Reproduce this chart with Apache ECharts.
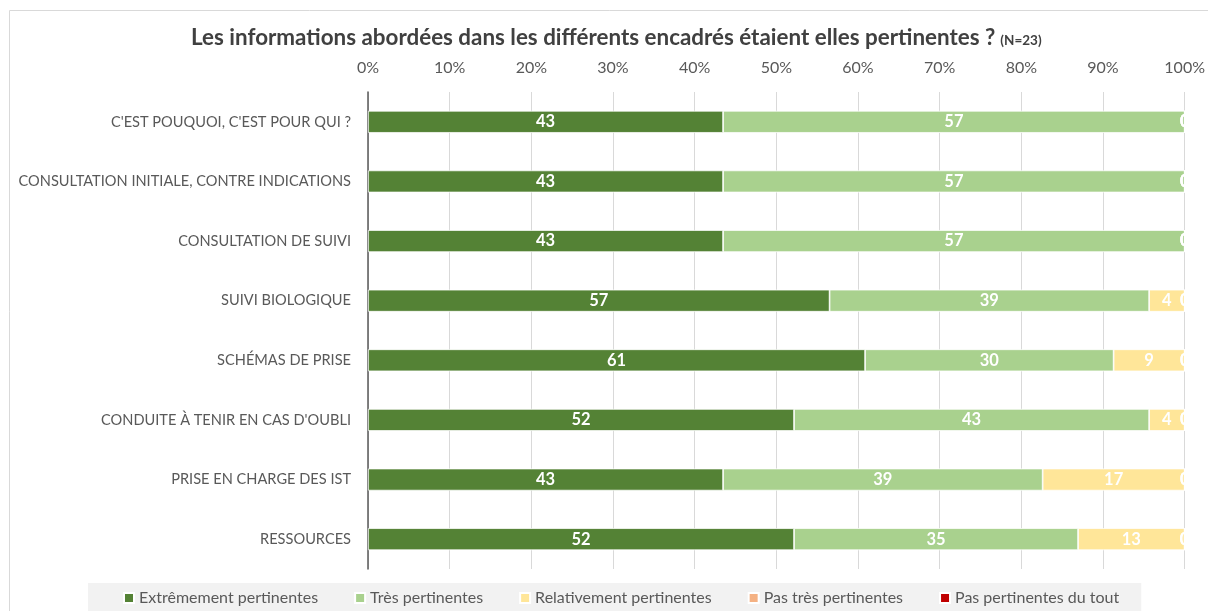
<!DOCTYPE html>
<html>
<head>
<meta charset="utf-8">
<script src="https://cdn.jsdelivr.net/npm/echarts@6/dist/echarts.min.js"></script>
<style>
  html, body { margin: 0; padding: 0; background: #fff; }
  #chart { width: 1208px; height: 611px; }
</style>
</head>
<body>
<div id="chart"></div>
<script>
// rubriques (axe vertical, de haut en bas)
var categories = [
    "C'EST POUQUOI, C'EST POUR QUI ?",
    'CONSULTATION INITIALE, CONTRE INDICATIONS',
    'CONSULTATION DE SUIVI',
    'SUIVI BIOLOGIQUE',
    'SCHÉMAS DE PRISE',
    "CONDUITE À TENIR EN CAS D'OUBLI",
    'PRISE EN CHARGE DES IST',
    'RESSOURCES'
];

// pourcentages de réponses (N=23)
var extremement = [43.48, 43.48, 43.48, 56.52, 60.87, 52.17, 43.48, 52.17];
var tres = [56.52, 56.52, 56.52, 39.13, 30.43, 43.48, 39.13, 34.78];
var relativement = [0, 0, 0, 4.35, 8.70, 4.35, 17.39, 13.04];
var pasTres = [0, 0, 0, 0, 0, 0, 0, 0];
var pasDuTout = [0, 0, 0, 0, 0, 0, 0, 0];

var seriesNames = ['Extrêmement pertinentes', 'Très pertinentes', 'Relativement pertinentes', 'Pas très pertinentes', 'Pas pertinentes du tout'];
var seriesData = [extremement, tres, relativement, pasTres, pasDuTout];
var colors = ['#548235', '#a9d18e', '#ffe699', '#f4b183', '#c00000'];

var font = 'Lato, "Open Sans", sans-serif';

var myChart = echarts.init(document.getElementById('chart'));

var series = seriesNames.map(function (name, i) {
    return {
        name: name,
        type: 'bar',
        stack: 'total',
        barCategoryGap: '63%',
        itemStyle: {
            color: colors[i],
            borderColor: '#ffffff',
            borderWidth: 0.75
        },
        label: {
            show: true,
            position: 'inside',
            color: '#ffffff',
            fontFamily: font,
            fontWeight: 'bold',
            fontSize: 16.5,
            formatter: function (p) { return Math.round(p.value); }
        },
        data: seriesData[i]
    };
});

var option = {
    animation: false,
    color: colors,
    title: {
        text: '{main|Les informations abordées dans les différents encadrés étaient elles pertinentes ?} {small|(N=23)}',
        left: 186,
        top: 22,
        textStyle: {
            rich: {
                main: { fontFamily: font, fontWeight: 'bold', fontSize: 22.4, color: '#404040' },
                small: { fontFamily: font, fontWeight: 'bold', fontSize: 13.5, color: '#404040', padding: [5, 0, 0, 0] }
            }
        }
    },
    graphic: [
        {
            type: 'rect',
            shape: { x: 9.5, y: 10.5, width: 1300, height: 700 },
            style: { fill: 'none', stroke: '#d9d9d9', lineWidth: 1 },
            z: -10
        }
    ],
    legend: {
        data: seriesNames,
        left: 88,
        bottom: -12,
        padding: [7, 22, 17, 35],
        backgroundColor: '#f2f2f2',
        icon: 'rect',
        itemWidth: 10,
        itemHeight: 10,
        itemGap: 36,
        textStyle: { color: '#595959', fontFamily: font, fontSize: 16 }
    },
    grid: {
        left: 368,
        right: 23,
        top: 92,
        bottom: 42,
        containLabel: false
    },
    xAxis: {
        type: 'value',
        position: 'top',
        min: 0,
        max: 100,
        interval: 10,
        axisLine: { show: false },
        axisTick: { show: false },
        axisLabel: {
            formatter: '{value}%',
            color: '#595959',
            fontFamily: font,
            fontSize: 16,
            margin: 16
        },
        splitLine: { show: true, lineStyle: { color: '#d9d9d9', width: 1 } }
    },
    yAxis: {
        type: 'category',
        inverse: true,
        data: categories,
        axisLine: { show: true, lineStyle: { color: '#595959', width: 1.5 } },
        axisTick: { show: false },
        axisLabel: {
            color: '#595959',
            fontFamily: font,
            fontSize: 14.6,
            margin: 17
        }
    },
    series: series
};

myChart.setOption(option);
</script>
</body>
</html>
